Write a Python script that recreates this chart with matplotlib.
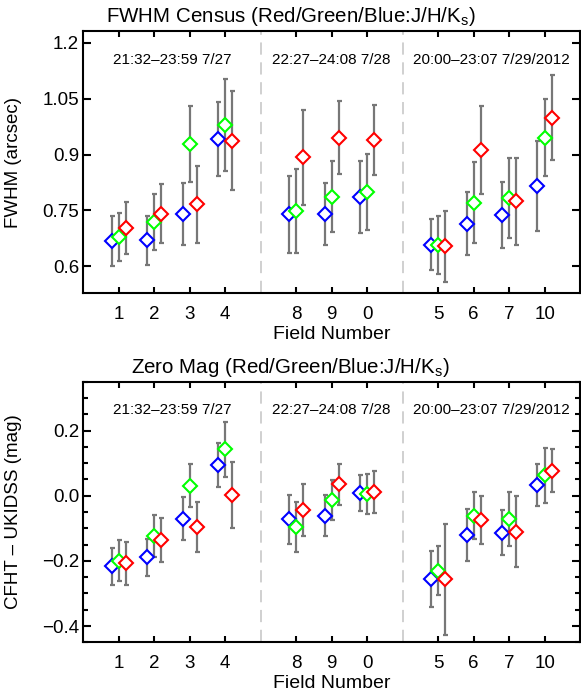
import numpy as np
import matplotlib
matplotlib.use('Agg')
import matplotlib.pyplot as plt

plt.rcParams['font.family'] = ['Liberation Sans', 'DejaVu Sans']
plt.rcParams['mathtext.fontset'] = 'custom'
plt.rcParams['mathtext.rm'] = 'Liberation Sans'

#Field numbers, grouped by night
nights = ['21:32\u201323:59 7/27', '22:27\u201324:08 7/28', '20:00\u201323:07 7/29/2012']
night_fields = [['1', '2', '3', '4'], ['8', '9', '0'], ['5', '6', '7', '10']]

#FWHM (arcsec), J/H/Ks = red/green/blue, in field order 1 2 3 4 8 9 0 5 6 7 10
fwhm_j = [0.702, 0.741, 0.766, 0.937, 0.892, 0.945, 0.939, 0.653, 0.913, 0.774, 0.999]
fwhm_j_err = [0.070, 0.080, 0.103, 0.133, 0.128, 0.098, 0.093, 0.095, 0.118, 0.116, 0.114]
fwhm_h = [0.678, 0.719, 0.929, 0.980, 0.749, 0.787, 0.799, 0.656, 0.771, 0.783, 0.945]
fwhm_h_err = [0.065, 0.075, 0.102, 0.123, 0.113, 0.096, 0.103, 0.078, 0.109, 0.108, 0.104]
fwhm_k = [0.667, 0.669, 0.740, 0.942, 0.739, 0.741, 0.785, 0.658, 0.714, 0.737, 0.815]
fwhm_k_err = [0.067, 0.065, 0.083, 0.100, 0.104, 0.083, 0.097, 0.069, 0.084, 0.089, 0.121]

#Zero mag difference CFHT - UKIDSS (mag)
zp_j = [-0.208, -0.137, -0.097, 0.001, -0.044, 0.035, 0.011, -0.257, -0.074, -0.110, 0.077]
zp_j_err = [0.065, 0.068, 0.077, 0.101, 0.080, 0.063, 0.065, 0.171, 0.074, 0.109, 0.067]
zp_h = [-0.199, -0.124, 0.031, 0.142, -0.097, -0.013, 0.006, -0.230, -0.061, -0.072, 0.062]
zp_h_err = [0.062, 0.064, 0.066, 0.084, 0.077, 0.062, 0.062, 0.075, 0.073, 0.083, 0.083]
zp_k = [-0.217, -0.189, -0.071, 0.095, -0.072, -0.061, 0.008, -0.256, -0.121, -0.113, 0.032]
zp_k_err = [0.057, 0.057, 0.066, 0.068, 0.075, 0.064, 0.054, 0.086, 0.079, 0.070, 0.065]

#x positions: one empty slot between nights
xpos, labels, seps, centers = [], [], [], []
x = 1
for i, flds in enumerate(night_fields):
    start = x
    for f in flds:
        xpos.append(x)
        labels.append(f)
        x += 1
    centers.append((start + x - 1) / 2)
    if i < len(night_fields) - 1:
        seps.append(x)
        x += 1
xpos = np.array(xpos, dtype=float)

fig = plt.figure(figsize=(5.81, 6.98), dpi=100)
ax1 = fig.add_axes([0.1434, 0.5798, 0.855, 0.3758])
ax2 = fig.add_axes([0.1434, 0.0798, 0.855, 0.3734])

def panel(ax, series, title, ylabel):
    for s in seps:
        ax.axvline(s, color='#c4c4c4', lw=1.1, dashes=(8, 5), zorder=1)
    for (y, e, col, dx) in series:
        ax.errorbar(xpos + dx, y, yerr=e, fmt='none', ecolor='#777777',
                    elinewidth=1.6, capsize=1.8, capthick=1.6, zorder=2)
        ax.plot(xpos + dx, y, 'D', ms=6.8, mfc='white', mec=col, mew=1.5,
                linestyle='none', zorder=3)
    for c, n in zip(centers, nights):
        ax.text(c, 0.89, n, transform=ax.get_xaxis_transform(),
                ha='center', va='center', fontsize=11)
    ax.set_xlim(0, 14)
    ax.set_xticks(xpos)
    ax.set_xticklabels(labels)
    ax.set_xlabel('Field Number', fontsize=14, labelpad=2)
    ax.set_ylabel(ylabel, fontsize=13.5)
    ax.yaxis.set_label_coords(-0.124, 0.5)
    ax.set_title(title, fontsize=14.8, pad=6.5, x=0.417)
    ax.tick_params(direction='in', top=True, right=True, width=1.5,
                   labelsize=13.5)
    ax.tick_params(axis='x', length=4, pad=9.5)
    ax.tick_params(axis='y', which='major', length=6, pad=3)
    ax.tick_params(axis='y', which='minor', length=3.5, width=1.5, direction='in',
                   left=True, right=True)
    for sp in ax.spines.values():
        sp.set_linewidth(1.5)

title_sfx = ' (Red/Green/Blue:J/H/K$_\\mathrm{s}$)'
panel(ax1, [(fwhm_k, fwhm_k_err, 'blue', -0.2),
            (fwhm_h, fwhm_h_err, '#00ff00', 0.0),
            (fwhm_j, fwhm_j_err, 'red', 0.2)],
      'FWHM Census' + title_sfx, 'FWHM (arcsec)')
ax1.set_ylim(0.527, 1.232)
ax1.set_yticks([0.6, 0.75, 0.9, 1.05, 1.2])
ax1.set_yticklabels(['0.6', '0.75', '0.9', '1.05', '1.2'])

panel(ax2, [(zp_k, zp_k_err, 'blue', -0.2),
            (zp_h, zp_h_err, '#00ff00', 0.0),
            (zp_j, zp_j_err, 'red', 0.2)],
      'Zero Mag' + title_sfx, 'CFHT \u2013 UKIDSS (mag)')
ax2.set_ylim(-0.447, 0.348)
ax2.set_yticks([-0.4, -0.2, 0.0, 0.2])
ax2.set_yticklabels(['\u22120.4', '\u22120.2', '0.0', '0.2'])
ax2.set_yticks(np.arange(-0.45, 0.351, 0.05), minor=True)

fig.savefig('out.png', dpi=100)
